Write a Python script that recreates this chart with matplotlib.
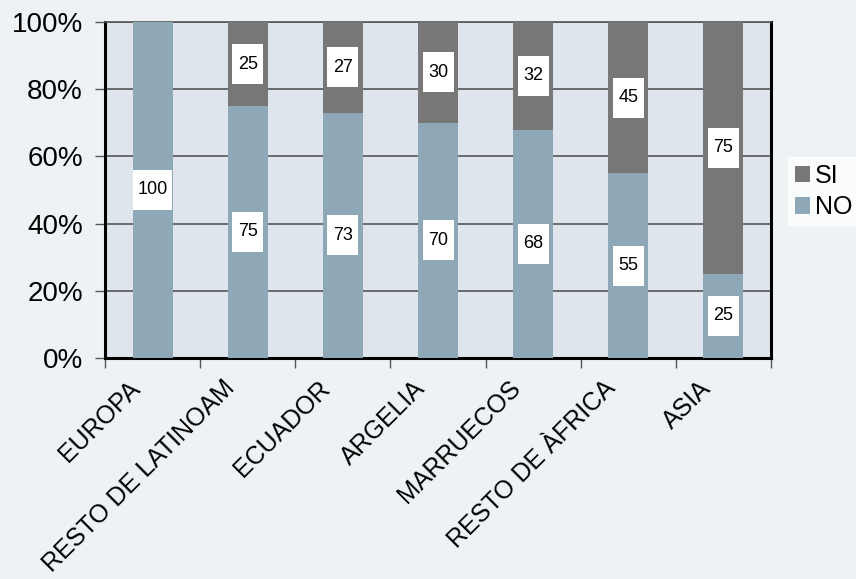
import numpy as np
import matplotlib
matplotlib.use('Agg')
import matplotlib.pyplot as plt
import matplotlib.transforms as mtransforms
from matplotlib.patches import Rectangle
from matplotlib.ticker import FixedLocator, PercentFormatter

regions = ['EUROPA', 'RESTO DE LATINOAM', 'ECUADOR', 'ARGELIA', 'MARRUECOS',
           'RESTO DE ÀFRICA', 'ASIA']
no_vals = [100, 75, 73, 70, 68, 55, 25]
si_vals = [0, 25, 27, 30, 32, 45, 75]

no_colour = '#8FA8B8'
si_colour = '#777777'

plt.rcParams['font.family'] = ['Liberation Sans', 'DejaVu Sans']

fig = plt.figure(figsize=(8.56, 5.79), dpi=100, facecolor='#EEF2F5')
ax = fig.add_axes([0.1227, 0.3817, 0.778, 0.5803])
ax.set_facecolor('#DEE5EC')

x = np.arange(len(regions))
b_no = ax.bar(x, no_vals, width=0.42, color=no_colour, label='NO', zorder=3)
b_si = ax.bar(x, si_vals, width=0.42, bottom=no_vals, color=si_colour, label='SI', zorder=3)

ax.set_xlim(-0.5, len(regions) - 0.5)
ax.set_ylim(0, 100)

# white label boxes: size in pixels converted to data units
ax_w_px = 0.778 * 856
ax_h_px = 0.5803 * 579
box_h = 40.0 / ax_h_px * 100


def label(xc, yc, val):
    txt = str(val)
    w_px = 16 + 7.5 * len(txt)
    bw = w_px / ax_w_px * len(regions)
    ax.add_patch(Rectangle((xc - bw / 2, yc - box_h / 2), bw, box_h, fc='white',
                           ec='none', zorder=4))
    ax.text(xc, yc, txt, ha='center', va='center', fontsize=13, zorder=5)


for i in range(len(regions)):
    if no_vals[i] > 0:
        label(x[i], no_vals[i] / 2.0, no_vals[i])
    if si_vals[i] > 0:
        label(x[i], no_vals[i] + si_vals[i] / 2.0, si_vals[i])

ax.set_yticks([0, 20, 40, 60, 80, 100])
ax.yaxis.set_major_formatter(PercentFormatter(decimals=0))
ax.tick_params(axis='y', labelsize=20, length=7, width=1, color='#555555', pad=9)
ax.yaxis.grid(True, color='#555555', linewidth=1.2, zorder=1)

ax.set_xticks(x)
ax.set_xticklabels(regions, rotation=45, ha='right', va='top', rotation_mode='anchor',
                   fontsize=18)
ax.tick_params(axis='x', which='major', length=0, pad=13)
shift = mtransforms.ScaledTranslation(-25 / 100.0, 0, fig.dpi_scale_trans)
for lab in ax.get_xticklabels():
    lab.set_transform(lab.get_transform() + shift)
ax.xaxis.set_minor_locator(FixedLocator(np.arange(-0.5, len(regions), 1.0)))
ax.tick_params(axis='x', which='minor', length=7, width=1, color='#555555')

for s in ['left', 'bottom', 'right']:
    ax.spines[s].set_linewidth(2.2)
    ax.spines[s].set_color('black')
ax.spines['top'].set_linewidth(1.2)
ax.spines['top'].set_color('#555555')

handles = [b_si, b_no]
leg = fig.legend(handles, ['SI', 'NO'], loc='upper left', bbox_to_anchor=(0.921, 0.728),
                 fontsize=18, frameon=True, fancybox=False, handlelength=0.62,
                 handleheight=0.62, handletextpad=0.2, borderpad=0.25, labelspacing=0.3,
                 borderaxespad=0)
leg.get_frame().set_facecolor('white')
leg.get_frame().set_edgecolor('white')

fig.savefig('out.png', dpi=100, facecolor=fig.get_facecolor())
